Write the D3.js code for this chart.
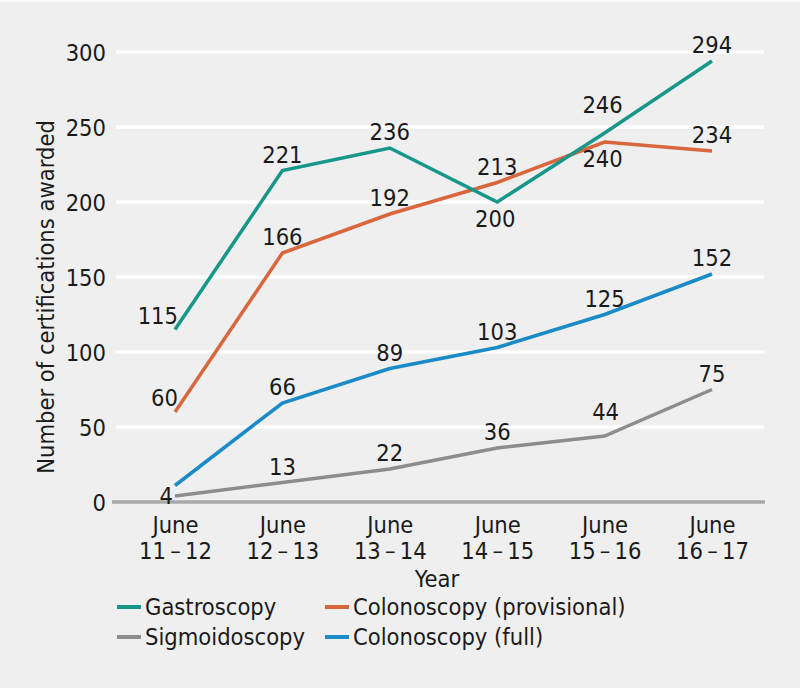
<!DOCTYPE html>
<html><head><meta charset="utf-8">
<script src="https://cdn.jsdelivr.net/npm/d3@7"></script>
<style>
html,body{margin:0;padding:0;background:#efefef;}
svg{display:block;}
text{font-family:"DejaVu Sans Condensed","DejaVu Sans",sans-serif;font-stretch:condensed;fill:#1a1a1a;}
</style></head>
<body>
<script>
const years = ["June|11\u2009\u2013\u200912","June|12\u2009\u2013\u200913","June|13\u2009\u2013\u200914","June|14\u2009\u2013\u200915","June|15\u2009\u2013\u200916","June|16\u2009\u2013\u200917"];
const gastroscopy = [115,221,236,200,246,294];
const colonoscopyProvisional = [60,166,192,213,240,234];
const colonoscopyFull = [11,66,89,103,125,152];
const sigmoidoscopy = [4,13,22,36,44,75];
const yTicks = [0,50,100,150,200,250,300];
const seriesNames = ["Gastroscopy","Colonoscopy (provisional)","Sigmoidoscopy","Colonoscopy (full)"];
// label placement per point: "a" above, "b" below, "l" left, "h"/"h2" higher above, "n" none, "lb" left-low
const placeGastro = ["l","a","a","b","h","a"];
const placeColProv = ["l","a","a","a","b","a"];
const placeColFull = ["n","a","a","a","a","a"];
const placeSigmo = ["lb","a","a","a","h2","a"];

const series = [
  {name:seriesNames[0], values:gastroscopy, color:"#17968a", place:placeGastro},
  {name:seriesNames[1], values:colonoscopyProvisional, color:"#d9673e", place:placeColProv},
  {name:seriesNames[3], values:colonoscopyFull, color:"#1a8bc6", place:placeColFull},
  {name:seriesNames[2], values:sigmoidoscopy, color:"#8d8d8d", place:placeSigmo}
];

const FS="23.5px";
const W=800,H=688;
const svg=d3.select("body").append("svg").attr("width",W).attr("height",H);
svg.append("rect").attr("width",W).attr("height",H).attr("fill","#efefef");
svg.append("rect").attr("width",W).attr("height",2).attr("fill","#fbfbfb");

const x=d3.scalePoint().domain(years).range([175,712]);
const y=d3.scaleLinear().domain([0,300]).range([502,52]);

// grid
svg.append("g").selectAll("line").data(yTicks.filter(d=>d>0)).join("line")
  .attr("x1",116).attr("x2",764).attr("y1",d=>y(d)).attr("y2",d=>y(d))
  .attr("stroke","#ffffff").attr("stroke-width",3.5);
svg.append("line").attr("x1",112).attr("x2",765).attr("y1",y(0)).attr("y2",y(0))
  .attr("stroke","#a9a9a9").attr("stroke-width",3.5);

// y axis labels
const yAxis=d3.axisLeft(y).tickValues(yTicks).tickSize(0).tickPadding(0);
const gy=svg.append("g").attr("transform","translate(106,0)").call(yAxis);
gy.select(".domain").remove();
gy.selectAll("text").style("font-size",FS).attr("dy","0.36em").attr("fill","#1a1a1a");

// x axis labels
const xAxis=d3.axisBottom(x).tickSize(0).tickFormat(()=> "");
const gx=svg.append("g").attr("transform","translate(0,502)").call(xAxis);
gx.select(".domain").remove();
gx.selectAll(".tick text").each(function(d){
  const t=d3.select(this).text(null).attr("y",0).attr("dy",null).style("font-size",FS);
  const parts=d.split("|");
  t.append("tspan").attr("x",0).attr("y",31).text(parts[0]);
  t.append("tspan").attr("x",0).attr("y",57).text(parts[1]);
});

svg.append("text").attr("x",437).attr("y",587).attr("text-anchor","middle")
  .style("font-size",FS).text("Year");
svg.append("text").attr("transform","translate(54,297) rotate(-90)")
  .attr("text-anchor","middle").style("font-size",FS).text("Number of certifications awarded");

// lines
const line=d3.line().x((d,i)=>x(years[i])).y(d=>y(d));
const order=[series[3],series[2],series[1],series[0]];
svg.append("g").selectAll("path").data(order).join("path")
  .attr("d",s=>line(s.values)).attr("fill","none").attr("stroke",s=>s.color)
  .attr("stroke-width",3.5).attr("stroke-linejoin","miter");

// labels
const lab=svg.append("g");
series.forEach(s=>{
  s.values.forEach((v,i)=>{
    const p=s.place[i]; if(p==="n") return;
    const px=x(years[i]), py=y(v);
    const t=lab.append("text").style("font-size",FS).text(v);
    if(p==="l"){ t.attr("x",px+3).attr("y",py-6).attr("text-anchor","end"); }
    else if(p==="lb"){ t.attr("x",px-2).attr("y",py+8).attr("text-anchor","end"); }
    else if(p==="b"){ t.attr("x",px-2).attr("y",py+25).attr("text-anchor","middle"); }
    else if(p==="h"){ t.attr("x",px-2).attr("y",py-20).attr("text-anchor","middle"); }
    else if(p==="h2"){ t.attr("x",px+1).attr("y",py-16).attr("text-anchor","middle"); }
    else { t.attr("x",px).attr("y",py-8).attr("text-anchor","middle"); }
  });
});

// legend
const legendItems=[
  {s:series[0],lx:117,ly:607},{s:series[1],lx:325,ly:607},
  {s:series[3],lx:117,ly:637},{s:series[2],lx:325,ly:637}
];
const lg=svg.append("g");
legendItems.forEach(it=>{
  lg.append("line").attr("x1",it.lx).attr("x2",it.lx+24).attr("y1",it.ly).attr("y2",it.ly)
    .attr("stroke",it.s.color).attr("stroke-width",4);
  lg.append("text").attr("x",it.lx+28).attr("y",it.ly+8).style("font-size",FS).text(it.s.name);
});
</script>
</body></html>
